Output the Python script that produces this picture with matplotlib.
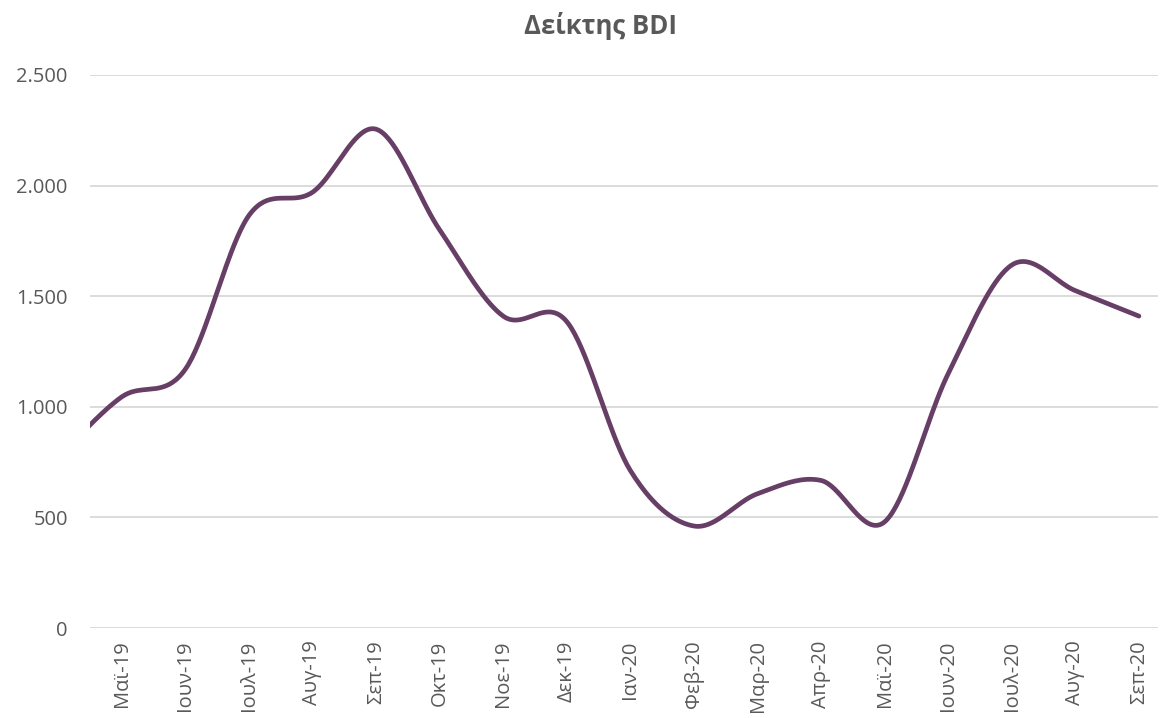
import numpy as np
import matplotlib
matplotlib.use("Agg")
import matplotlib.pyplot as plt
from matplotlib.ticker import FuncFormatter

plt.rcParams['font.family'] = ['Open Sans', 'DejaVu Sans']

# ==============================
# Data (monthly BDI)
# ==============================
months = ["Απρ-19", "Μαϊ-19", "Ιουν-19", "Ιουλ-19", "Αυγ-19", "Σεπ-19", "Οκτ-19",
          "Νοε-19", "Δεκ-19", "Ιαν-20", "Φεβ-20", "Μαρ-20", "Απρ-20",
          "Μαϊ-20", "Ιουν-20", "Ιουλ-20", "Αυγ-20", "Σεπ-20"]
bdi = [770, 1045, 1170, 1865, 1970, 2255, 1800,
       1410, 1385, 712, 461, 607, 667,
       480, 1150, 1641, 1525, 1410]

shown_labels = months[1:]   # April 2019 is cut off by the axis

# ==============================
# Smooth line like Excel (Bezier through points)
# ==============================
def smooth(xs, ys, n=40):
    xs = np.asarray(xs, float)
    ys = np.asarray(ys, float)
    px = np.concatenate([[xs[0]], xs, [xs[-1]]])
    py = np.concatenate([[ys[0]], ys, [ys[-1]]])
    out_x, out_y = [], []
    t = np.linspace(0, 1, n)
    for i in range(1, len(px) - 2):
        p0x, p1x, p2x, p3x = px[i - 1], px[i], px[i + 1], px[i + 2]
        p0y, p1y, p2y, p3y = py[i - 1], py[i], py[i + 1], py[i + 2]
        c1x, c1y = p1x + (p2x - p0x) / 6, p1y + (p2y - p0y) / 6
        c2x, c2y = p2x - (p3x - p1x) / 6, p2y - (p3y - p1y) / 6
        bx = (1 - t) ** 3 * p1x + 3 * (1 - t) ** 2 * t * c1x + 3 * (1 - t) * t ** 2 * c2x + t ** 3 * p2x
        by = (1 - t) ** 3 * p1y + 3 * (1 - t) ** 2 * t * c1y + 3 * (1 - t) * t ** 2 * c2y + t ** 3 * p2y
        out_x.extend(bx)
        out_y.extend(by)
    return np.array(out_x), np.array(out_y)

x = np.arange(len(months)) - 1
sx, sy = smooth(x, bdi)

# ==============================
# Plot
# ==============================
fig = plt.figure(figsize=(11.6, 7.18), dpi=100)
ax = fig.add_axes([90 / 1160, 1 - 628 / 718, 1068 / 1160, (628 - 75) / 718])

ax.plot(sx, sy, color="#673F66", linewidth=3.4, solid_capstyle="round")

ax.set_xlim(-0.5, 16.3)
ax.set_ylim(0, 2500)
ax.set_yticks(np.arange(0, 2501, 500))
ax.yaxis.set_major_formatter(FuncFormatter(lambda v, p: f"{int(v):,}".replace(",", ".")))
ax.set_xticks(np.arange(len(shown_labels)))
ax.set_xticklabels(shown_labels, rotation=90)

ax.grid(axis="y", color="#d9d9d9", linewidth=1.3)
ax.set_axisbelow(True)
for s in ax.spines.values():
    s.set_visible(False)
ax.tick_params(axis="both", length=0, labelsize=14.5, labelcolor="#595959")
ax.tick_params(axis="y", pad=16)
ax.tick_params(axis="x", pad=9)

fig.text(0.518, 1 - 26 / 718, "Δείκτης BDI", ha="center", va="center",
         fontsize=18.5, fontweight="bold", color="#595959")

fig.savefig("out.png", dpi=100)
